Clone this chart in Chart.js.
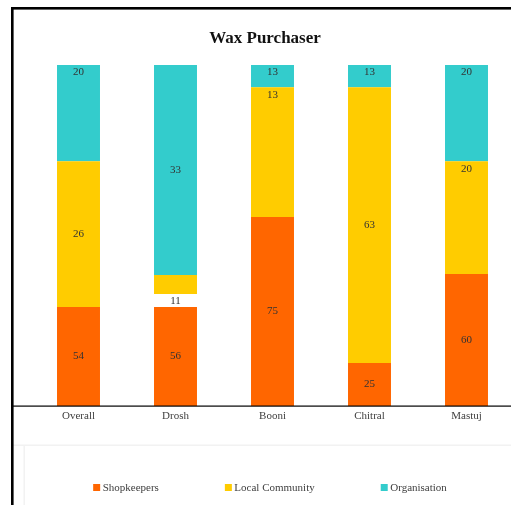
<!DOCTYPE html>
<html><head><meta charset="utf-8">
<script src="https://cdn.jsdelivr.net/npm/chart.js@4"></script>
<style>
html,body{margin:0;padding:0;background:#fff;overflow:hidden}
#wrap{position:relative;width:511px;height:505px;overflow:hidden}
#box{position:absolute;left:0;top:0;width:530px;height:505px}
</style></head><body>
<div id="wrap"><div id="box"><canvas id="c"></canvas></div></div>
<script>
const categories = ['Overall', 'Drosh', 'Booni', 'Chitral', 'Mastuj'];
const seriesNames = ['Shopkeepers', 'Local Community', 'Organisation'];
// segment heights as drawn (share of bar height)
const shopkeepers = [29.0, 29.0, 55.4, 12.6, 38.7];
const localCommunity = [42.8, 9.4, 38.1, 80.9, 33.1];
const organisation = [28.2, 61.6, 6.5, 6.5, 28.2];
// data label texts as printed on the segments
const shopkeepersLabels = ['54', '56', '75', '25', '60'];
const localCommunityLabels = ['26', '11', '13', '63', '20'];
const organisationLabels = ['20', '33', '13', '13', '20'];
const chartTitle = 'Wax Purchaser';

const colors = ['#FF6600', '#FFCC00', '#33CCCC'];
const serif = '"Liberation Serif", "DejaVu Serif", serif';

const segLabels = {
  id: 'segLabels',
  afterDatasetsDraw(chart) {
    const ctx = chart.ctx;
    ctx.save();
    ctx.font = '11px ' + serif;
    ctx.fillStyle = '#333333';
    ctx.textAlign = 'center';
    ctx.textBaseline = 'middle';
    chart.data.datasets.forEach((ds, di) => {
      chart.getDatasetMeta(di).data.forEach((bar, i) => {
        const top = Math.min(bar.y, bar.base), bottom = Math.max(bar.y, bar.base);
        const vals = chart.data.datasets.map(d => d.data[i]);
        const largest = ds.data[i] >= Math.max(...vals);
        const bw = bar.options && bar.options.borderWidth;
        const gapB = (bw && typeof bw === 'object' && bw.bottom) ? bw.bottom : 0;
        let y;
        if (gapB) y = bottom - gapB / 2;
        else y = (di === 0 || largest) ? (top + bottom) / 2 : top + 7.5;
        ctx.fillText(ds.segmentLabels[i], bar.x, y);
      });
    });
    ctx.restore();
  }
};

const decor = {
  id: 'decor',
  afterDraw(chart) {
    const ctx = chart.ctx, W = chart.width, H = chart.height, ca = chart.chartArea;
    ctx.save();
    // legend area faint frame
    ctx.fillStyle = '#f2f2f2';
    ctx.fillRect(13, ca.bottom + 38.5, W, 1.5);
    ctx.fillRect(23.5, ca.bottom + 40, 1.5, H);
    // axis line
    ctx.fillStyle = '#000';
    ctx.fillRect(13, ca.bottom - 0.5, W, 1.2);
    // outer frame
    ctx.fillRect(11, 7, 2.6, H);
    ctx.fillRect(11, 7, W, 2.6);
    // legend
    ctx.font = '11px ' + serif;
    ctx.textBaseline = 'middle';
    ctx.textAlign = 'left';
    const gap = 66, box = 7, pad = 2.5;
    const items = chart.data.datasets.map(d => ({label: d.label, color: d.backgroundColor, w: box + pad + ctx.measureText(d.label).width}));
    const total = items.reduce((s, it) => s + it.w, 0) + gap * (items.length - 1);
    let x = 270 - total / 2;
    const y = ca.bottom + 81.5;
    items.forEach(it => {
      ctx.fillStyle = it.color;
      ctx.fillRect(x, y - box / 2, box, box);
      ctx.fillStyle = '#404040';
      ctx.fillText(it.label, x + box + pad, y + 0.5);
      x += it.w + gap;
    });
    ctx.restore();
  }
};

new Chart(document.getElementById('c'), {
  type: 'bar',
  data: {
    labels: categories,
    datasets: [
      {label: seriesNames[0], data: shopkeepers, backgroundColor: colors[0], segmentLabels: shopkeepersLabels},
      {label: seriesNames[1], data: localCommunity, backgroundColor: colors[1], segmentLabels: localCommunityLabels,
        borderColor: '#ffffff', borderSkipped: false,
        borderWidth: c => c.dataIndex === 1 ? {top: 0, left: 0, right: 0, bottom: 13} : 0},
      {label: seriesNames[2], data: organisation, backgroundColor: colors[2], segmentLabels: organisationLabels}
    ]
  },
  options: {
    responsive: true,
    maintainAspectRatio: false,
    animation: false,
    devicePixelRatio: 1,
    layout: {padding: 0},
    datasets: {bar: {barPercentage: 0.443, categoryPercentage: 1}},
    plugins: {
      legend: {display: false},
      tooltip: {enabled: false},
      title: {
        display: true, text: chartTitle, color: '#111',
        font: {family: serif, size: 17, weight: 'bold'},
        padding: {top: 28.3, bottom: 16.3}
      }
    },
    scales: {
      x: {
        stacked: true,
        grid: {display: false, drawTicks: false, tickLength: 0}, border: {display: false},
        ticks: {font: {family: serif, size: 11}, color: '#404040', padding: 3.5},
        afterFit: s => { s.height = 99; }
      },
      y: {
        stacked: true, min: 0, max: 100,
        grid: {display: false}, border: {display: false},
        ticks: {display: false},
        afterFit: s => { s.width = 30; }
      },
      y2: {
        position: 'right', display: true, min: 0, max: 100,
        grid: {display: false}, border: {display: false},
        ticks: {display: false},
        afterFit: s => { s.width = 15; }
      }
    }
  },
  plugins: [segLabels, decor]
});
</script>
</body></html>
